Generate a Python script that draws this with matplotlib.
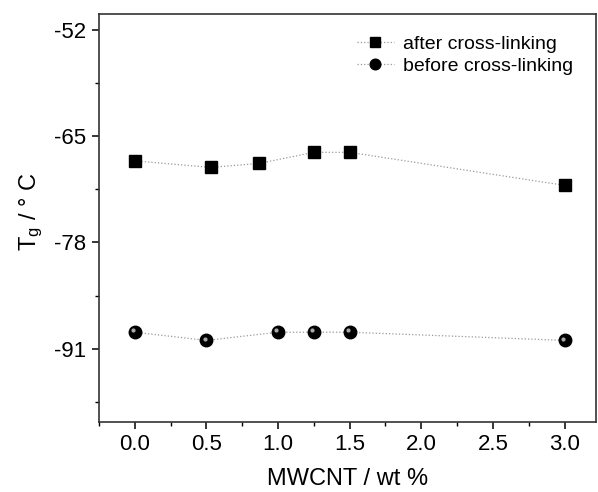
import numpy as np
import matplotlib
matplotlib.use('Agg')
import matplotlib.pyplot as plt
from matplotlib.ticker import MultipleLocator
from matplotlib.transforms import offset_copy

plt.rcParams['font.family'] = ['Liberation Sans', 'DejaVu Sans']
plt.rcParams['mathtext.fontset'] = 'custom'
plt.rcParams['mathtext.rm'] = 'Liberation Sans'
plt.rcParams['mathtext.it'] = 'Liberation Sans'
plt.rcParams['axes.unicode_minus'] = False

# data
x_after = [0.0, 0.53, 0.87, 1.25, 1.5, 3.0]
tg_after = [-68.0, -68.8, -68.3, -66.95, -66.95, -71.0]
x_before = [0.0, 0.5, 1.0, 1.25, 1.5, 3.0]
tg_before = [-89.0, -90.0, -89.0, -89.0, -89.0, -90.0]

y_ticks = [-52, -65, -78, -91]
x_ticks = [0.0, 0.5, 1.0, 1.5, 2.0, 2.5, 3.0]

fig = plt.figure(figsize=(5.98, 4.92), dpi=100)
ax = fig.add_axes([0.1656, 0.1423, 0.8311, 0.8292])

ax.plot(x_after, tg_after, ls=':', lw=0.9, color='#9a9a9a',
        marker='s', ms=8.5, mfc='black', mec='black', label='after cross-linking')
ax.plot(x_before, tg_before, ls=':', lw=0.9, color='#9a9a9a',
        marker='o', ms=9, mfc='black', mec='black', label='before cross-linking')
# small highlight to mimic the shaded balls
hl = offset_copy(ax.transData, fig=fig, x=-1.3, y=1.3, units='points')
ax.plot(x_before, tg_before, ls='none', marker='o', ms=3, mfc='#c8c8c8',
        mec='none', alpha=0.85, transform=hl)

ax.set_xlim(-0.25, 3.22)
ax.set_ylim(-100, -50)
ax.set_xticks(x_ticks)
ax.set_yticks(y_ticks)
ax.xaxis.set_minor_locator(MultipleLocator(0.25))
ax.yaxis.set_minor_locator(MultipleLocator(6.5))
ax.yaxis.set_minor_formatter(plt.NullFormatter())

ax.tick_params(which='major', direction='out', length=5, width=1.1, labelsize=16, pad=4)
ax.tick_params(which='minor', direction='out', length=3, width=1.0)
for s in ax.spines.values():
    s.set_linewidth(1.2)
    s.set_color('#333333')

ax.set_xlabel('MWCNT / wt %', fontsize=17, labelpad=9)
ax.set_ylabel(r'T$_\mathrm{g}$ / ° C', fontsize=17)
ax.yaxis.set_label_coords(-0.108, 0.515)

ax.legend(loc='upper right', bbox_to_anchor=(0.99, 0.99), frameon=False,
          fontsize=14, handlelength=1.9, handletextpad=0.5, labelspacing=0.2,
          markerscale=0.85)

fig.savefig('out.png', dpi=100)
